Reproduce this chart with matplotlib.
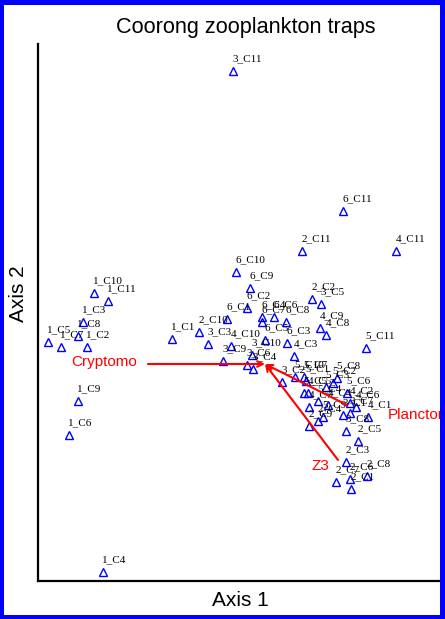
import matplotlib
matplotlib.use("Agg")
import matplotlib.pyplot as plt
from matplotlib.patches import Rectangle

# ---- data (ordination scores, arbitrary axis units) ----
labels = ["1_C1", "1_C2", "1_C3", "1_C4", "1_C5", "1_C6", "1_C7", "1_C8", "1_C9", "1_C10", "1_C11",
          "2_C1", "2_C2", "2_C3", "2_C4", "2_C5", "2_C6", "2_C7", "2_C8", "2_C9", "2_C10", "2_C11",
          "3_C1", "3_C2", "3_C3", "3_C4", "3_C5", "3_C6", "3_C7", "3_C8", "3_C9", "3_C10", "3_C11",
          "4_C1", "4_C2", "4_C3", "4_C4", "4_C5", "4_C6", "4_C7", "4_C8", "4_C9", "4_C10", "4_C11",
          "5_C1", "5_C2", "5_C3", "5_C4", "5_C5", "5_C6", "5_C7", "5_C8", "5_C9", "5_C10", "5_C11",
          "6_C1", "6_C2", "6_C3", "6_C4", "6_C5", "6_C6", "6_C7", "6_C8", "6_C9", "6_C10", "6_C11"]
axis1 = [134, 49, 45, 65, 10, 31, 23, 40, 40, 56, 70,
         313, 274, 308, 280, 320, 312, 298, 329, 271, 161, 264,
         305, 244, 170, 215, 283, 209, 312, 308, 185, 214, 195,
         330, 312, 256, 290, 270, 318, 271, 288, 282, 193, 358,
         268, 295, 288, 280, 266, 309, 266, 299, 285, 257, 328,
         189, 209, 249, 224, 227, 236, 224, 248, 212, 198, 305]
axis2 = [242, 234, 259, 9, 239, 146, 234, 245, 180, 288, 280,
         92, 282, 119, 160, 140, 102, 99, 105, 155, 249, 330,
         166, 199, 237, 212, 277, 216, 168, 150, 220, 226, 510,
         164, 178, 225, 176, 188, 174, 174, 246, 253, 235, 330,
         200, 198, 194, 180, 188, 188, 204, 203, 164, 204, 233,
         262, 273, 238, 264, 241, 264, 259, 259, 293, 309, 370]

# joint-plot vectors
vec_names = ["Cryptomo", "Planctor", "Z3"]
vec_origin = (227, 217)
vec_x = [110, 309, 300]
vec_y = [217, 176, 121]
vec_label_x = [99, 350, 282]
vec_label_y = [219, 166, 115]
vec_label_ha = ["right", "left", "center"]

fig = plt.figure(figsize=(4.45, 6.19), dpi=100)
fig.patch.set_facecolor("white")
ax = fig.add_axes([38 / 445, 38 / 619, 402 / 445, 537 / 619])
ax.set_xlim(0, 402)
ax.set_ylim(0, 537)
for s in ["top", "right"]:
    ax.spines[s].set_visible(False)
for s in ["left", "bottom"]:
    ax.spines[s].set_linewidth(1.6)
    ax.spines[s].set_color("black")
ax.set_xticks([])
ax.set_yticks([])

ax.plot(axis1, axis2, linestyle="none", marker="^", markersize=6,
        markerfacecolor="none", markeredgecolor="#0000ff", markeredgewidth=1.0, zorder=3)
for lab, x, y in zip(labels, axis1, axis2):
    ax.annotate(lab, (x, y), xytext=(-0.5, 8.6), textcoords="offset points",
                ha="left", va="center", fontsize=8, family="Liberation Serif",
                color="black", zorder=4)

for name, ex, ey, lx, ly, ha in zip(vec_names, vec_x, vec_y, vec_label_x, vec_label_y, vec_label_ha):
    ax.annotate("", xy=vec_origin, xytext=(ex, ey),
                arrowprops=dict(arrowstyle="->", color="red", lw=1.5,
                                shrinkA=0, shrinkB=0, mutation_scale=10), zorder=5)
    ax.text(lx, ly, name, color="red", fontsize=11, family="Liberation Sans",
            ha=ha, va="center", clip_on=False, zorder=5)

fig.text(246 / 445, 1 - 27 / 619, "Coorong zooplankton traps", ha="center", va="center",
         fontsize=15.6, family="Liberation Sans")
fig.text(240 / 445, 1 - 601 / 619, "Axis 1", ha="center", va="center",
         fontsize=15, family="Liberation Sans")
fig.text(18 / 445, 1 - 294 / 619, "Axis 2", ha="center", va="center", rotation=90,
         fontsize=15, family="Liberation Sans")

# blue frame around the figure
for (x0, y0, w, h) in [(0, 0, 4, 619), (440, 0, 5, 619), (0, 614, 445, 5), (0, 0, 445, 4)]:
    fig.add_artist(Rectangle((x0 / 445, y0 / 619), w / 445, h / 619, transform=fig.transFigure,
                             facecolor="#0000ff", edgecolor="none", zorder=10))

fig.savefig("out.png", dpi=100, facecolor="white")
